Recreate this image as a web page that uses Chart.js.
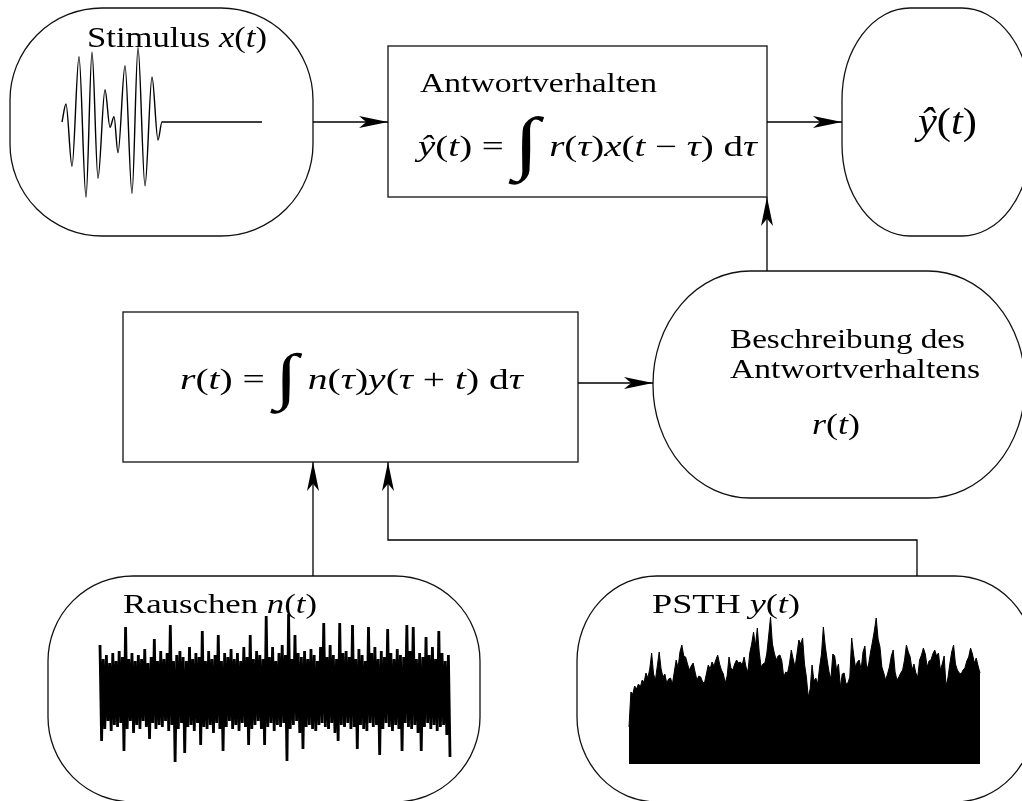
<!DOCTYPE html>
<html lang="de">
<head>
<meta charset="UTF-8">
<title>Antwortverhalten – Rückwärtskorrelation</title>
<script src="https://cdn.jsdelivr.net/npm/chart.js"></script>
<style>
  body { margin: 0; background: #ffffff; }
  .chart-container { width: 1022px; height: 801px; }
</style>
</head>
<body>
<div class="chart-container"><canvas id="diagram"></canvas></div>
<script>
// Stimulus x(t): time in ms, relative amplitude
const stimTime = [0, 4, 10, 17, 24, 30, 36, 43, 48, 52, 56, 63, 70, 76, 83, 90, 96, 100, 200];
const stimAmp  = [0, 0.24, -0.59, 0.87, -1.0, 0.93, -0.75, 0.43, -0.07, 0.07, -0.41, 0.75, -0.95, 0.99, -0.85, 0.6, -0.24, 0, 0];

// Rauschen n(t): white noise samples
const noiseSamples = [
  2.3, -2.5, 1.6, -1.9, 1.8, -1.5, 1.4, -2.0, 1.9, -1.7, 1.5, -1.8, 2.0, -1.6, 1.7, -3.0, 3.2, -1.9, 1.6, -1.5,
  1.9, -2.1, 1.5, -1.7, 1.8, -1.9, 1.6, -1.5, 2.1, -1.8, 1.4, -2.4, 1.7, -1.6, 2.6, -1.9, 1.5, -1.7, 2.0, -1.8,
  1.6, -1.5, 1.9, -2.0, 3.3, -1.7, 1.5, -3.55, 1.8, -1.9, 2.0, -1.6, 1.7, -3.1, 1.5, -1.8, 2.2, -1.7, 1.6, -2.0,
  1.9, -1.6, 1.7, -2.7, 3.0, -1.8, 1.5, -1.9, 2.0, -1.7, 1.6, -2.1, 1.8, -1.6, 2.8, -1.9, 1.5, -3.0, 1.9, -1.8,
  1.7, -1.5, 2.1, -1.9, 1.6, -1.7, 1.9, -2.0, 1.5, -1.6, 2.2, -1.8, 1.7, -2.7, 2.8, -1.9, 1.6, -1.7, 2.0, -1.5,
  1.8, -1.9, 1.6, -2.7, 3.75, -1.8, 1.7, -1.6, 2.2, -2.0, 1.5, -1.7, 1.9, -1.8, 2.3, -1.6, 1.8, -3.5, 3.85, -1.9,
  1.6, -1.7, 2.8, -1.5, 1.9, -2.1, 1.7, -2.9, 2.0, -1.8, 1.6, -1.7, 2.1, -1.9, 1.8, -2.0, 1.5, -1.7, 2.2, -1.6,
  3.4, -1.8, 1.7, -1.9, 2.3, -1.6, 1.8, -2.1, 1.6, -2.5, 3.4, -1.7, 1.9, -1.8, 2.0, -1.6, 1.7, -1.9, 3.3, -1.8,
  1.6, -2.9, 2.1, -1.7, 1.8, -1.9, 1.5, -2.0, 3.2, -1.6, 1.9, -1.8, 2.2, -1.7, 1.6, -3.2, 2.0, -1.9, 1.7, -1.6,
  3.1, -1.8, 1.9, -2.0, 1.6, -1.7, 2.1, -1.9, 1.8, -3.0, 1.7, -1.6, 3.3, -1.8, 2.0, -1.9, 3.2, -1.7, 1.6, -2.1,
  1.9, -3.0, 1.7, -1.8, 2.7, -1.6, 1.8, -1.9, 2.2, -1.7, 1.6, -2.0, 3.0, -1.8, 1.9, -1.7, 1.5, -2.2, 1.8, -3.3
];

// PSTH y(t): firing rate per bin (Hz)
const psthRate = [
  37, 72, 70, 78, 75, 80, 77, 84, 82, 91, 86, 95, 111, 90, 84, 98, 112, 95, 87, 90,
  81, 85, 86, 80, 92, 104, 96, 112, 119, 108, 107, 100, 94, 98, 101, 92, 84, 88, 87, 82,
  81, 90, 99, 95, 102, 98, 104, 109, 100, 94, 90, 81, 88, 107, 96, 94, 100, 104, 101, 102,
  99, 107, 97, 92, 111, 120, 132, 118, 136, 112, 97, 100, 101, 110, 128, 147, 120, 111, 104, 108,
  109, 103, 87, 92, 91, 100, 114, 105, 97, 110, 124, 120, 126, 100, 87, 67, 75, 99, 83, 86,
  80, 97, 110, 137, 118, 104, 92, 85, 110, 108, 94, 100, 77, 90, 91, 80, 81, 87, 126, 110,
  97, 102, 104, 94, 112, 118, 94, 100, 112, 122, 133, 146, 125, 117, 97, 91, 84, 90, 97, 108,
  114, 92, 84, 87, 91, 94, 104, 119, 112, 107, 94, 100, 91, 87, 104, 109, 116, 110, 97, 103,
  104, 110, 114, 108, 111, 94, 100, 108, 78, 86, 100, 112, 119, 100, 94, 91, 90, 94, 96, 103,
  107, 116, 110, 101, 106, 98, 91
];

const W = 1022, H = 801;

// placement of the three small signal plots (diagram units)
const stimPlot  = { left: 62,  right: 262, zero: 122, one: 47 };
const noisePlot = { left: 100, right: 450, zero: 691, one: 671 };
const psthPlot  = { left: 629, right: 980, zero: 764, hundred: 664 };

// linear scale that puts data d0..d1 at pixel p0..p1 across the full width
function hScale(p0, p1, d0, d1) {
  const k = (d1 - d0) / (p1 - p0);
  const min = d0 - p0 * k;
  return { type: 'linear', display: false, min: min, max: min + W * k };
}
// vertical scale: pixel pZero shows 0, pixel pRef shows refValue
function vScale(pZero, pRef, refValue) {
  const k = refValue / (pZero - pRef);
  return { type: 'linear', display: false, min: -(H - pZero) * k, max: pZero * k };
}

const SERIF = '"Liberation Serif", "Times New Roman", serif';

// pieces of text; i = italic (math variables), big = integral height in px
const labels = [
  { left: 87, base: 47, size: 30, width: 180,
    segs: [{ t: 'Stimulus ' }, { t: 'x', i: 1 }, { t: '(' }, { t: 't', i: 1 }, { t: ')' }] },
  { left: 420, base: 92, size: 28, width: 237, segs: [{ t: 'Antwortverhalten' }] },
  { left: 418, base: 156, size: 29, width: 339,
    segs: [{ t: 'ŷ', i: 1 }, { t: '(' }, { t: 't', i: 1 }, { t: ') = ' }, { t: '∫', big: 70 }, { t: ' ' },
           { t: 'r', i: 1 }, { t: '(' }, { t: 'τ', i: 1 }, { t: ')' }, { t: 'x', i: 1 }, { t: '(' },
           { t: 't', i: 1 }, { t: ' − ' }, { t: 'τ', i: 1 }, { t: ') d' }, { t: 'τ', i: 1 }] },
  { left: 918, base: 134, size: 38, width: 59,
    segs: [{ t: 'ŷ', i: 1 }, { t: '(' }, { t: 't', i: 1 }, { t: ')' }] },
  { left: 180, base: 389, size: 29, width: 343,
    segs: [{ t: 'r', i: 1 }, { t: '(' }, { t: 't', i: 1 }, { t: ') = ' }, { t: '∫', big: 62 }, { t: ' ' },
           { t: 'n', i: 1 }, { t: '(' }, { t: 'τ', i: 1 }, { t: ')' }, { t: 'y', i: 1 }, { t: '(' },
           { t: 'τ', i: 1 }, { t: ' + ' }, { t: 't', i: 1 }, { t: ') d' }, { t: 'τ', i: 1 }] },
  { left: 730, base: 348, size: 28, width: 235, segs: [{ t: 'Beschreibung des' }] },
  { left: 730, base: 378, size: 28, width: 250, segs: [{ t: 'Antwortverhaltens' }] },
  { left: 812, base: 434, size: 29, width: 48,
    segs: [{ t: 'r', i: 1 }, { t: '(' }, { t: 't', i: 1 }, { t: ')' }] },
  { left: 123, base: 613, size: 28, width: 194,
    segs: [{ t: 'Rauschen ' }, { t: 'n', i: 1 }, { t: '(' }, { t: 't', i: 1 }, { t: ')' }] },
  { left: 652, base: 613, size: 28, width: 148,
    segs: [{ t: 'PSTH ' }, { t: 'y', i: 1 }, { t: '(' }, { t: 't', i: 1 }, { t: ')' }] }
];

// rounded outlines (x0, y0, x1, y1, rx, ry) and plain boxes
const roundShapes = [
  [10, 8, 313, 236, 92, 92],
  [842, 8, 1030, 236, 68, 92],
  [653, 271, 1025, 498, 97, 113],
  [48, 576, 480, 802, 85, 85],
  [577, 576, 1035, 802, 80, 85]
];
const boxes = [
  [388, 46, 767, 197],
  [123, 312, 578, 462]
];
// connectors: list of points, arrow head at the last point
const arrows = [
  [[313, 122], [388, 122]],
  [[767, 122], [842, 122]],
  [[767, 271], [767, 197]],
  [[578, 383], [653, 383]],
  [[313, 576], [313, 462]],
  [[917, 576], [917, 540], [388, 540], [388, 462]]
];

function drawRich(ctx, lab, px, py) {
  const fontOf = (s, sz) => (s.i ? 'italic ' : '') + sz + 'px ' + SERIF;
  let total = 0;
  lab.segs.forEach(s => {
    s.size = lab.size;
    if (s.big) {
      ctx.font = fontOf(s, lab.size);
      const m = ctx.measureText(s.t);
      s.size = lab.size * s.big / (m.actualBoundingBoxAscent + m.actualBoundingBoxDescent);
    }
    ctx.font = fontOf(s, s.size);
    s.w = ctx.measureText(s.t).width;
    total += s.w;
  });
  const sx = lab.width / total;
  ctx.save();
  ctx.translate(px(lab.left), py(lab.base));
  ctx.scale(sx, 1);
  ctx.fillStyle = '#000';
  ctx.textBaseline = 'alphabetic';
  let x = 0;
  lab.segs.forEach(s => {
    ctx.font = fontOf(s, s.size);
    if (s.big) {
      // centre the integral on the math axis
      const m = ctx.measureText(s.t);
      const off = (m.actualBoundingBoxAscent - m.actualBoundingBoxDescent) / 2;
      ctx.fillText(s.t, x, off - lab.size * 0.2);
    } else {
      ctx.fillText(s.t, x, 0);
    }
    x += s.w;
  });
  ctx.restore();
}

function roundedPath(ctx, x0, y0, x1, y1, rx, ry) {
  ctx.beginPath();
  ctx.moveTo(x0 + rx, y0);
  ctx.lineTo(x1 - rx, y0);
  ctx.ellipse(x1 - rx, y0 + ry, rx, ry, 0, -Math.PI / 2, 0);
  ctx.lineTo(x1, y1 - ry);
  ctx.ellipse(x1 - rx, y1 - ry, rx, ry, 0, 0, Math.PI / 2);
  ctx.lineTo(x0 + rx, y1);
  ctx.ellipse(x0 + rx, y1 - ry, rx, ry, 0, Math.PI / 2, Math.PI);
  ctx.lineTo(x0, y0 + ry);
  ctx.ellipse(x0 + rx, y0 + ry, rx, ry, 0, Math.PI, Math.PI * 1.5);
  ctx.closePath();
}

// stealth-style arrow tip
function arrowHead(ctx, tx, ty, ang) {
  const L = 29, hw = 6;
  ctx.save();
  ctx.translate(tx, ty);
  ctx.rotate(ang);
  ctx.beginPath();
  ctx.moveTo(0, 0);
  ctx.lineTo(-L, -hw);
  ctx.lineTo(-L * 0.75, 0);
  ctx.lineTo(-L, hw);
  ctx.closePath();
  ctx.fill();
  ctx.restore();
}

const diagramPlugin = {
  id: 'diagram',
  beforeDatasetsDraw(chart) {
    const ctx = chart.ctx;
    const sx = chart.scales.x, sy = chart.scales.y;
    const px = v => sx.getPixelForValue(v), py = v => sy.getPixelForValue(v);
    ctx.save();
    ctx.strokeStyle = '#111';
    ctx.lineWidth = 1.3;
    roundShapes.forEach(r => {
      const x0 = px(r[0]), y0 = py(r[1]), x1 = px(r[2]), y1 = py(r[3]);
      roundedPath(ctx, x0, y0, x1, y1, px(r[4]) - px(0), py(r[5]) - py(0));
      ctx.stroke();
    });
    ctx.strokeStyle = '#222';
    ctx.lineWidth = 1.4;
    boxes.forEach(b => {
      ctx.strokeRect(px(b[0]), py(b[1]), px(b[2]) - px(b[0]), py(b[3]) - py(b[1]));
    });
    ctx.strokeStyle = '#000';
    ctx.fillStyle = '#000';
    ctx.lineWidth = 1.3;
    arrows.forEach(a => {
      ctx.beginPath();
      a.forEach((p, k) => k ? ctx.lineTo(px(p[0]), py(p[1])) : ctx.moveTo(px(p[0]), py(p[1])));
      ctx.stroke();
      const p1 = a[a.length - 1], p0 = a[a.length - 2];
      const ang = Math.atan2(py(p1[1]) - py(p0[1]), px(p1[0]) - px(p0[0]));
      arrowHead(ctx, px(p1[0]), py(p1[1]), ang);
    });
    ctx.restore();
  },
  afterDatasetsDraw(chart) {
    const ctx = chart.ctx;
    const sx = chart.scales.x, sy = chart.scales.y;
    const px = v => sx.getPixelForValue(v), py = v => sy.getPixelForValue(v);
    labels.forEach(lab => drawRich(ctx, lab, px, py));
  }
};

const noiseStep = 1;   // ms per noise sample
const psthBin = 1;     // ms per PSTH bin

new Chart(document.getElementById('diagram'), {
  type: 'line',
  data: {
    datasets: [
      {
        label: 'x(t)',
        data: stimTime.map((t, k) => ({ x: t, y: stimAmp[k] })),
        xAxisID: 'xStim', yAxisID: 'yStim',
        borderColor: '#000', borderWidth: 1.4, pointRadius: 0,
        cubicInterpolationMode: 'monotone', borderJoinStyle: 'round', fill: false
      },
      {
        label: 'n(t)',
        data: noiseSamples.map((v, k) => ({ x: k * noiseStep, y: v })),
        xAxisID: 'xNoise', yAxisID: 'yNoise',
        borderColor: '#000', backgroundColor: '#000', borderWidth: 2.8, pointRadius: 0,
        tension: 0, borderJoinStyle: 'bevel', fill: { value: 0 }
      },
      {
        label: 'y(t)',
        data: psthRate.map((v, k) => ({ x: k * psthBin, y: v })),
        xAxisID: 'xPsth', yAxisID: 'yPsth',
        borderColor: '#000', backgroundColor: '#000', borderWidth: 1, pointRadius: 0,
        tension: 0, borderJoinStyle: 'bevel', fill: { value: 0 }
      }
    ]
  },
  options: {
    responsive: true,
    maintainAspectRatio: false,
    animation: false,
    events: [],
    layout: { padding: 0 },
    plugins: { legend: { display: false }, tooltip: { enabled: false } },
    scales: {
      x: { type: 'linear', display: false, min: 0, max: W },
      y: { type: 'linear', display: false, min: 0, max: H, reverse: true },
      xStim: hScale(stimPlot.left, stimPlot.right, stimTime[0], stimTime[stimTime.length - 1]),
      yStim: vScale(stimPlot.zero, stimPlot.one, 1),
      xNoise: hScale(noisePlot.left, noisePlot.right, 0, (noiseSamples.length - 1) * noiseStep),
      yNoise: vScale(noisePlot.zero, noisePlot.one, 1),
      xPsth: hScale(psthPlot.left, psthPlot.right, 0, (psthRate.length - 1) * psthBin),
      yPsth: vScale(psthPlot.zero, psthPlot.hundred, 100)
    }
  },
  plugins: [diagramPlugin]
});
</script>
</body>
</html>
